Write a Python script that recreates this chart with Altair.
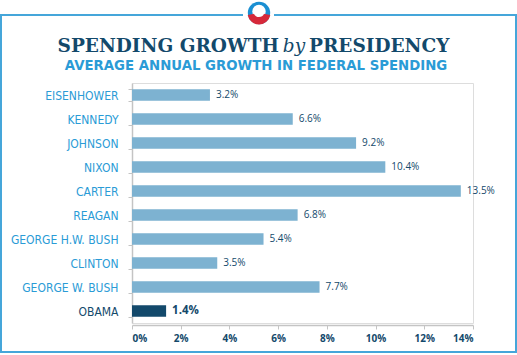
import altair as alt
import pandas as pd

presidents = ["EISENHOWER", "KENNEDY", "JOHNSON", "NIXON", "CARTER", "REAGAN",
              "GEORGE H.W. BUSH", "CLINTON", "GEORGE W. BUSH", "OBAMA"]
growth = [3.2, 6.6, 9.2, 10.4, 13.5, 6.8, 5.4, 3.5, 7.7, 1.4]
labels = ["3.2%", "6.6%", "9.2%", "10.4%", "13.5%", "6.8%", "5.4%", "3.5%", "7.7%", "1.4%"]
x_ticks = [0, 2, 4, 6, 8, 10, 12, 14]

title_left = "SPENDING GROWTH"
title_mid = "by"
title_right = "PRESIDENCY"
subtitle = "AVERAGE ANNUAL GROWTH IN FEDERAL SPENDING"

NAVY = "#13496b"
LIGHT = "#7db2d1"
BLUE = "#2a9bd6"
FRAME = "#45a6da"
GRAY = "#c4c4c4"

df = pd.DataFrame({"name": presidents, "growth": growth, "label": labels})
df["obama"] = df["name"] == "OBAMA"
one = pd.DataFrame({"a": [0]})

W, H = 341, 240

y_enc = alt.Y("name:N", sort=presidents,
              scale=alt.Scale(paddingInner=0.52, paddingOuter=0.26),
              axis=alt.Axis(title=None, tickBand="extent", tickSize=4, tickColor=GRAY,
                            domainColor=GRAY, domainWidth=1.5, labelPadding=10,
                            labelFont="'DejaVu Sans Condensed', 'Roboto Condensed', Roboto",
                            labelFontSize=12, labelFontWeight=500,
                            labelColor=alt.ExprRef("datum.value == 'OBAMA' ? '%s' : '%s'" % (NAVY, BLUE))))

x_enc = alt.X("growth:Q", scale=alt.Scale(domain=[0, 14], nice=False),
              axis=alt.Axis(title=None, values=x_ticks, labelExpr="datum.value + '%'",
                            grid=False, tickSize=4, tickColor=GRAY, domainColor=GRAY,
                            domainWidth=1.5, offset=2, labelFont="Open Sans",
                            labelFontWeight="bold", labelFontSize=10, labelColor=NAVY,
                            labelPadding=4))

bars = alt.Chart(df).mark_bar().encode(
    x=x_enc, y=y_enc,
    color=alt.condition("datum.obama", alt.value(NAVY), alt.value(LIGHT)),
)

vals = alt.Chart(df).transform_filter("!datum.obama").mark_text(
    align="left", dx=6, font="Open Sans", fontSize=10, color=NAVY).encode(
    x="growth:Q", y=alt.Y("name:N", sort=presidents), text="label:N")
vals_ob = alt.Chart(df).transform_filter("datum.obama").mark_text(
    align="left", dx=6, font="Open Sans", fontSize=11.5, fontWeight="bold", color=NAVY).encode(
    x="growth:Q", y=alt.Y("name:N", sort=presidents), text="label:N")

# frame and header (pixel positions relative to plot origin)
frame = alt.Chart(one).mark_rect(filled=False, stroke=FRAME, strokeWidth=2).encode(
    x=alt.value(-131), x2=alt.value(384), y=alt.value(-68), y2=alt.value(269))
gap = alt.Chart(one).mark_rect(color="white").encode(
    x=alt.value(111), x2=alt.value(142), y=alt.value(-71), y2=alt.value(-65))
logo_blue = alt.Chart(one).mark_point(filled=True, opacity=1, color="#1b8fd2", size=500).encode(
    x=alt.value(127), y=alt.value(-70))
logo_red = alt.Chart(one).mark_arc(color="#d6293a", radius=11.5, theta=1.75, theta2=4.53).encode(
    x=alt.value(127), y=alt.value(-70))
logo_white = alt.Chart(one).mark_point(filled=True, opacity=1, color="white", size=180).encode(
    x=alt.value(127), y=alt.value(-71.5))
logo_s1 = alt.Chart(one).mark_arc(color="#d6293a", radius=7.6, radius2=5.6, theta=2.0, theta2=4.28).encode(
    x=alt.value(127), y=alt.value(-71.5))

t1 = alt.Chart(one).mark_text(text=title_left, align="right", baseline="alphabetic",
                              font="DejaVu Serif", fontWeight="bold", fontSize=18.5, color=NAVY).encode(
    x=alt.value(147), y=alt.value(-31))
t2 = alt.Chart(one).mark_text(text=title_mid, align="center", baseline="alphabetic",
                              font="DejaVu Serif", fontStyle="italic", fontSize=18.5, color=NAVY).encode(
    x=alt.value(162), y=alt.value(-31))
t3 = alt.Chart(one).mark_text(text=title_right, align="left", baseline="alphabetic",
                              font="DejaVu Serif", fontWeight="bold", fontSize=18.5, color=NAVY).encode(
    x=alt.value(177), y=alt.value(-31))
st = alt.Chart(one).mark_text(text=subtitle, align="center", baseline="alphabetic",
                              font="DejaVu Sans", fontWeight="bold", fontSize=13.3, color=BLUE).encode(
    x=alt.value(124), y=alt.value(-13))

chart = alt.layer(frame, gap, logo_blue, logo_red, logo_white, logo_s1, t1, t2, t3, st,
                  bars, vals, vals_ob).properties(
    width=W, height=H,
    autosize=alt.AutoSizeParams(type="none"),
    padding={"left": 132, "top": 83, "right": 44, "bottom": 32},
).configure_view(stroke=None).configure(background="white")

chart.save("out.html", embed_options={"renderer": "svg", "actions": False})
